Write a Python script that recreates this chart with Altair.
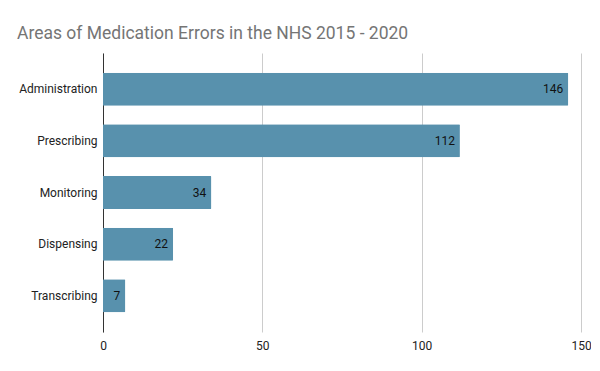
import altair as alt
import pandas as pd

categories = ["Administration", "Prescribing", "Monitoring", "Dispensing", "Transcribing"]
values = [146, 112, 34, 22, 7]

df = pd.DataFrame({"area": categories, "errors": values})

base = alt.Chart(df).encode(
    y=alt.Y("area:N", sort=categories, title=None,
            scale=alt.Scale(paddingInner=0.36, paddingOuter=0.38),
            axis=alt.Axis(domain=True, domainColor="#333333", ticks=False,
                          labelFont="Roboto", labelFontSize=12, labelColor="#222222",
                          labelPadding=6, grid=False)),
    x=alt.X("errors:Q", title=None,
            scale=alt.Scale(domain=[0, 150], nice=False),
            axis=alt.Axis(values=[0, 50, 100, 150], domain=False, ticks=False,
                          labelFont="Roboto", labelFontSize=12, labelColor="#222222",
                          labelPadding=8, labelFlush=False, grid=True,
                          gridColor="#cccccc", gridWidth=1)),
)

bars = base.mark_bar(color="#5891ad", cornerRadiusEnd=1)
labels = base.mark_text(align="right", baseline="middle", dx=-5, font="Roboto",
                        fontSize=12, color="#111111").encode(text="errors:Q")

chart = (bars + labels).properties(
    width=478,
    height=279,
    autosize=alt.AutoSizeParams(type="none"),
    padding={"left": 95, "top": 45, "right": 10, "bottom": 30},
    title=alt.TitleParams(
        "Areas of Medication Errors in the NHS 2015 - 2020",
        anchor="start", frame="group", dx=-86, offset=15, dy=18,
        baseline="alphabetic",
        font="Roboto", fontSize=17.5, fontWeight="normal", color="#757575",
    ),
).configure_view(stroke=None)

chart.save("out.html", embed_options={"renderer": "svg", "actions": False})
